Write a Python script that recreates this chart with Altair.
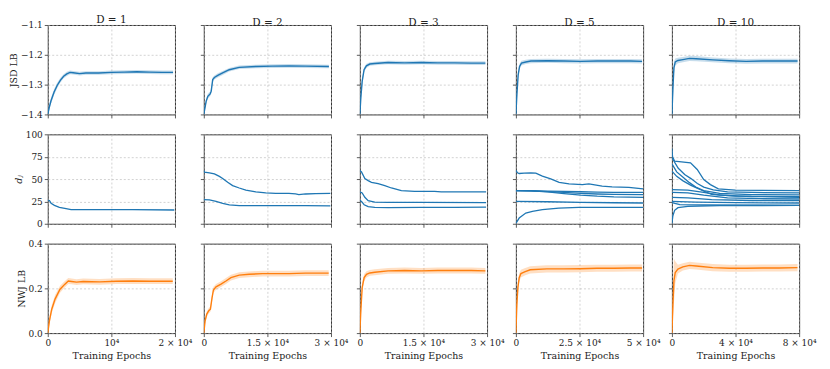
import altair as alt
import pandas as pd

FONT = "DejaVu Serif"
BLUE = "#1f77b4"
ORANGE = "#ff7f0e"

PANEL_TITLES = ["D = 1", "D = 2", "D = 3", "D = 5", "D = 10"]
X_MAX = [20000, 30000, 30000, 50000, 80000]
X_TICKS = [[0, 10000, 20000], [0, 15000, 30000], [0, 15000, 30000],
           [0, 25000, 50000], [0, 40000, 80000]]
X_TICK_LABELS = [["0", "10⁴", "2 × 10⁴"], ["0", "1.5 × 10⁴", "3 × 10⁴"],
                 ["0", "1.5 × 10⁴", "3 × 10⁴"], ["0", "2.5 × 10⁴", "5 × 10⁴"],
                 ["0", "4 × 10⁴", "8 × 10⁴"]]
X_TITLE = "Training Epochs"

ROW_TITLES = ["JSD LB", "dⱼ", "NWJ LB"]
ROW_TITLE_STYLES = ["normal", "italic", "normal"]
Y_DOMAINS = [[-1.4, -1.1], [0, 100], [0, 0.4]]
Y_TICKS = [[-1.4, -1.3, -1.2, -1.1], [0, 25, 50, 75, 100], [0.0, 0.2, 0.4]]
Y_FORMATS = [".1f", "d", ".1f"]

# ---------------- JSD lower bound (mean, spread) ----------------
JSD_D1_EPOCH = [0, 250, 500, 1000, 1500, 2000, 2500, 3000, 3500, 4000, 5000, 6000,
                8000, 10000, 12000, 14000, 16000, 18000, 19700]
JSD_D1_MEAN = [-1.40, -1.375, -1.355, -1.325, -1.302, -1.285, -1.272, -1.264, -1.259,
               -1.260, -1.263, -1.261, -1.261, -1.259, -1.258, -1.257, -1.258, -1.259, -1.259]
JSD_D1_SPREAD = [0.004, 0.008, 0.010, 0.010, 0.009, 0.008, 0.007, 0.007, 0.006, 0.006,
                 0.006, 0.006, 0.006, 0.006, 0.006, 0.006, 0.006, 0.006, 0.006]

JSD_D2_EPOCH = [0, 550, 950, 1500, 1750, 2100, 2500, 3300, 4450, 6000, 8350, 12250,
                16150, 20100, 24000, 29500]
JSD_D2_MEAN = [-1.40, -1.356, -1.339, -1.331, -1.322, -1.283, -1.276, -1.269, -1.261,
               -1.250, -1.242, -1.239, -1.238, -1.237, -1.238, -1.239]
JSD_D2_SPREAD = [0.004, 0.008, 0.008, 0.008, 0.008, 0.008, 0.007, 0.007, 0.007, 0.006,
                 0.006, 0.006, 0.006, 0.006, 0.006, 0.006]

JSD_D3_EPOCH = [0, 235, 550, 1000, 1550, 2350, 3500, 6650, 10550, 14500, 18400, 22300,
                26250, 29600]
JSD_D3_MEAN = [-1.40, -1.344, -1.289, -1.250, -1.237, -1.231, -1.229, -1.226, -1.227,
               -1.226, -1.227, -1.227, -1.228, -1.228]
JSD_D3_SPREAD = [0.004, 0.015, 0.012, 0.008, 0.007, 0.006, 0.006, 0.006, 0.006, 0.006,
                 0.006, 0.006, 0.006, 0.006]

JSD_D5_EPOCH = [0, 400, 900, 1450, 2200, 3900, 5900, 12400, 18900, 25450, 32000,
                38500, 45050, 49600]
JSD_D5_MEAN = [-1.40, -1.333, -1.267, -1.239, -1.228, -1.224, -1.221, -1.220, -1.221,
               -1.222, -1.221, -1.221, -1.221, -1.222]
JSD_D5_SPREAD = [0.004, 0.02, 0.012, 0.009, 0.008, 0.007, 0.007, 0.007, 0.007, 0.007,
                 0.007, 0.007, 0.007, 0.007]

JSD_D10_EPOCH = [0, 630, 1250, 2100, 3750, 6900, 11050, 15250, 25700, 36150, 46600,
                 57000, 67450, 79000]
JSD_D10_MEAN = [-1.40, -1.311, -1.244, -1.224, -1.219, -1.216, -1.212, -1.213, -1.217,
                -1.220, -1.222, -1.221, -1.221, -1.221]
JSD_D10_SPREAD = [0.004, 0.04, 0.02, 0.012, 0.009, 0.009, 0.009, 0.009, 0.008, 0.008,
                  0.008, 0.008, 0.008, 0.008]

# ---------------- NWJ lower bound (mean, spread) ----------------
NWJ_D1_EPOCH = [0, 260, 625, 1150, 1930, 2700, 3230, 3750, 4530, 5570, 8180, 10780,
                13390, 15990, 19650]
NWJ_D1_MEAN = [0.0, 0.055, 0.107, 0.152, 0.196, 0.219, 0.233, 0.231, 0.228, 0.231,
               0.229, 0.232, 0.233, 0.232, 0.232]
NWJ_D1_SPREAD = [0.005, 0.015, 0.018, 0.018, 0.016, 0.014, 0.013, 0.013, 0.013, 0.013,
                 0.013, 0.013, 0.013, 0.013, 0.013]

NWJ_D2_EPOCH = [0, 310, 700, 1170, 1560, 1950, 2270, 2890, 4060, 5230, 6400, 8360,
                10700, 13830, 16950, 20080, 23980, 29450]
NWJ_D2_MEAN = [0.0, 0.055, 0.085, 0.100, 0.107, 0.159, 0.193, 0.207, 0.219, 0.233,
               0.248, 0.259, 0.263, 0.266, 0.266, 0.266, 0.268, 0.268]
NWJ_D2_SPREAD = [0.005, 0.012, 0.012, 0.012, 0.012, 0.014, 0.014, 0.013, 0.013, 0.013,
                 0.013, 0.013, 0.013, 0.013, 0.013, 0.013, 0.013, 0.013]

NWJ_D3_EPOCH = [0, 235, 550, 1020, 1570, 2350, 3525, 6660, 10570, 14490, 18400, 22320,
                26240, 29610]
NWJ_D3_MEAN = [0.0, 0.100, 0.204, 0.248, 0.263, 0.269, 0.272, 0.278, 0.280, 0.278,
               0.280, 0.280, 0.280, 0.278]
NWJ_D3_SPREAD = [0.005, 0.03, 0.025, 0.016, 0.014, 0.013, 0.013, 0.013, 0.013, 0.013,
                 0.013, 0.013, 0.013, 0.013]

NWJ_D5_EPOCH = [0, 390, 790, 1310, 1970, 3680, 5640, 12200, 18770, 25330, 31890,
                38450, 45010, 49610]
NWJ_D5_MEAN = [0.0, 0.129, 0.204, 0.248, 0.266, 0.275, 0.283, 0.287, 0.287, 0.288,
               0.290, 0.290, 0.291, 0.291]
NWJ_D5_SPREAD = [0.005, 0.04, 0.03, 0.02, 0.017, 0.016, 0.016, 0.016, 0.016, 0.016,
                 0.016, 0.016, 0.016, 0.016]

NWJ_D10_EPOCH = [0, 630, 1250, 2090, 3760, 6890, 11070, 15250, 25690, 36140, 46580,
                 57020, 67470, 78960]
NWJ_D10_MEAN = [0.0, 0.129, 0.233, 0.271, 0.286, 0.296, 0.303, 0.300, 0.293, 0.290,
                0.290, 0.291, 0.291, 0.293]
NWJ_D10_SPREAD = [0.005, 0.06, 0.10, 0.05, 0.02, 0.016, 0.016, 0.016, 0.016, 0.016,
                  0.016, 0.016, 0.016, 0.016]

# ---------------- d_j traces: (epochs, values) per line ----------------
DJ_D1 = [
    ([0, 260, 520, 1050, 1830, 2880, 3670, 5500, 8100, 13350, 19900],
     [26.2, 26.0, 23.0, 20.6, 18.4, 16.9, 15.7, 15.7, 15.9, 15.7, 15.4]),
]
DJ_D2 = [
    ([0, 160, 1330, 2500, 3670, 4450, 5630, 6800, 8360, 9920, 12270, 14610, 16950,
      20080, 21640, 22420, 23980, 26330, 29840],
     [59.6, 57.7, 57.0, 55.8, 53.0, 50.6, 46.4, 42.7, 40.0, 37.5, 35.6, 34.5, 34.0,
      34.0, 33.3, 32.6, 33.3, 33.7, 34.0]),
    ([0, 1330, 2890, 4450, 6020, 8360, 12270, 16170, 20080, 23980, 29840],
     [27.0, 26.6, 25.1, 22.8, 21.0, 20.2, 20.2, 20.2, 20.2, 20.2, 19.9]),
]
DJ_D3 = [
    ([0, 390, 1180, 1960, 2740, 4310, 5880, 7440, 9790, 12920, 17620, 19190, 22320, 29770],
     [59.6, 58.0, 50.6, 48.3, 46.4, 45.0, 42.7, 40.0, 37.0, 36.3, 36.3, 35.6, 35.6, 35.6]),
    ([0, 550, 1180, 1960, 3520, 6660, 14490, 29770],
     [35.6, 34.5, 29.6, 25.8, 24.3, 24.0, 24.0, 23.6]),
    ([0, 390, 1020, 1960, 3520, 6660, 14490, 22320, 29770],
     [26.2, 25.0, 21.3, 19.1, 18.4, 18.0, 18.4, 18.4, 18.7]),
]
DJ_D5 = [
    ([0, 650, 1300, 3260, 5880, 7830, 10400, 13700, 17000, 20900, 26100, 28700, 33900,
      37800, 44400, 50000],
     [59.6, 57.0, 56.2, 56.6, 57.0, 56.6, 53.2, 50.2, 46.4, 44.6, 43.8, 44.6, 42.0,
      41.2, 40.8, 39.0]),
    ([0, 5880, 12400, 18930, 25460, 31980, 38510, 50000],
     [37.1, 36.9, 36.6, 36.2, 35.8, 35.4, 35.2, 35.0]),
    ([0, 5880, 12400, 18930, 25460, 31980, 38510, 50000],
     [37.1, 36.8, 36.0, 35.0, 34.0, 33.3, 32.8, 32.5]),
    ([0, 5880, 12400, 18930, 25460, 31980, 38510, 50000],
     [37.1, 36.7, 35.6, 33.8, 32.0, 30.8, 30.1, 29.6]),
    ([0, 12400, 25460, 38510, 50000],
     [25.1, 24.6, 24.0, 23.5, 23.2]),
    ([0, 1300, 3900, 6500, 10400, 16900, 24700, 50000],
     [0.4, 6.4, 12.0, 13.9, 15.7, 17.6, 18.4, 18.4]),
]
DJ_D10 = [
    ([0, 400, 1700, 6000, 11700, 15900, 20000, 24200, 29200, 40000, 80000],
     [84.0, 75.0, 70.0, 69.3, 68.2, 60.7, 49.4, 43.8, 39.0, 37.5, 37.1]),
    ([0, 4000, 8000, 12000, 16000, 20000, 26000, 35000, 50000, 80000],
     [73.8, 62.0, 55.0, 50.5, 45.0, 41.0, 38.0, 35.6, 35.0, 34.5]),
    ([0, 3000, 7000, 11000, 15000, 20000, 30000, 50000, 80000],
     [67.0, 58.0, 52.0, 46.0, 41.0, 37.0, 34.0, 32.6, 32.2]),
    ([0, 3000, 7000, 12000, 18000, 25000, 40000, 80000],
     [58.8, 53.0, 48.0, 43.0, 38.0, 33.0, 31.0, 30.3]),
    ([0, 10000, 20000, 30000, 50000, 80000],
     [38.2, 37.5, 35.0, 32.0, 30.5, 29.6]),
    ([0, 10000, 20000, 35000, 55000, 80000],
     [35.2, 34.5, 32.0, 29.0, 28.0, 27.7]),
    ([0, 10000, 25000, 50000, 80000],
     [29.6, 29.0, 27.0, 26.0, 25.8]),
    ([0, 15000, 40000, 80000],
     [25.1, 24.3, 23.6, 23.2]),
    ([0, 5000, 20000, 80000],
     [23.6, 21.5, 21.0, 20.6]),
    ([0, 600, 1700, 3800, 10000, 30000, 80000],
     [0.5, 9.0, 15.0, 18.0, 19.5, 20.2, 20.6]),
]

JSD = [(JSD_D1_EPOCH, JSD_D1_MEAN, JSD_D1_SPREAD), (JSD_D2_EPOCH, JSD_D2_MEAN, JSD_D2_SPREAD),
       (JSD_D3_EPOCH, JSD_D3_MEAN, JSD_D3_SPREAD), (JSD_D5_EPOCH, JSD_D5_MEAN, JSD_D5_SPREAD),
       (JSD_D10_EPOCH, JSD_D10_MEAN, JSD_D10_SPREAD)]
NWJ = [(NWJ_D1_EPOCH, NWJ_D1_MEAN, NWJ_D1_SPREAD), (NWJ_D2_EPOCH, NWJ_D2_MEAN, NWJ_D2_SPREAD),
       (NWJ_D3_EPOCH, NWJ_D3_MEAN, NWJ_D3_SPREAD), (NWJ_D5_EPOCH, NWJ_D5_MEAN, NWJ_D5_SPREAD),
       (NWJ_D10_EPOCH, NWJ_D10_MEAN, NWJ_D10_SPREAD)]
DJ = [DJ_D1, DJ_D2, DJ_D3, DJ_D5, DJ_D10]

W, H = 128, 90


def x_enc(col, row):
    labels = X_TICK_LABELS[col]
    ticks = X_TICKS[col]
    expr = f"'{labels[-1]}'"
    for t, l in reversed(list(zip(ticks[:-1], labels[:-1]))):
        expr = f"datum.value == {t} ? '{l}' : ({expr})"
    last = row == 2
    axis = alt.Axis(values=ticks, labelExpr=expr, labels=last, labelFlush=False,
                    labelOverlap=False, grid=True, domain=False, labelPadding=2,
                    titlePadding=3, titleFont=FONT, labelFont=FONT,
                    titleFontWeight="normal")
    return alt.X("epoch:Q", scale=alt.Scale(domain=[0, X_MAX[col]], nice=False, zero=False),
                 axis=axis, title=X_TITLE if last else None)


def y_axis(col, row):
    first = col == 0
    return alt.Axis(values=Y_TICKS[row], format=Y_FORMATS[row], labels=first,
                    labelFlush=False, labelOverlap=False, grid=True, domain=False,
                    labelPadding=2, titlePadding=2, titleFontStyle=ROW_TITLE_STYLES[row])


def y_scale(row):
    return alt.Scale(domain=Y_DOMAINS[row], nice=False, zero=False)


def panel(col, row):
    ytitle = ROW_TITLES[row] if col == 0 else None
    if row in (0, 2):
        ep, mean, spread = (JSD if row == 0 else NWJ)[col]
        color = BLUE if row == 0 else ORANGE
        df = pd.DataFrame({"epoch": ep, "value": mean,
                           "lo": [m - s for m, s in zip(mean, spread)],
                           "hi": [m + s for m, s in zip(mean, spread)]})
        base = alt.Chart(df)
        band = base.mark_area(color=color, opacity=0.25, clip=True).encode(
            x=x_enc(col, row),
            y=alt.Y("lo:Q", scale=y_scale(row), axis=y_axis(col, row), title=ytitle),
            y2="hi:Q",
        )
        line = base.mark_line(color=color, strokeWidth=1.4, clip=True).encode(
            x=x_enc(col, row),
            y=alt.Y("value:Q", scale=y_scale(row), axis=y_axis(col, row), title=ytitle),
        )
        ch = alt.layer(band, line)
    else:
        rows = []
        for i, (ep, vals) in enumerate(DJ[col]):
            for e, v in zip(ep, vals):
                rows.append({"epoch": e, "value": v, "series": i})
        df = pd.DataFrame(rows)
        ch = alt.Chart(df).mark_line(color=BLUE, strokeWidth=1.3, clip=True).encode(
            x=x_enc(col, row),
            y=alt.Y("value:Q", scale=y_scale(row), axis=y_axis(col, row), title=ytitle),
            detail="series:N",
        )
    props = dict(width=W, height=H)
    if row == 0:
        props["title"] = alt.TitleParams(PANEL_TITLES[col], fontSize=10.5, font=FONT,
                                         fontWeight="normal", offset=-4, color="#222222")
    return ch.properties(**props)


charts = [panel(c, r) for r in range(3) for c in range(5)]

chart = alt.concat(*charts, columns=5, spacing={"row": 20, "column": 29},
                   bounds="flush").configure(
    padding={"left": 0, "top": 5, "right": 5, "bottom": 2},
    font=FONT,
).configure_view(
    stroke="#333333", strokeWidth=1,
).configure_axis(
    labelFont=FONT, titleFont=FONT, labelFontSize=9, titleFontSize=9.5,
    titleFontWeight="normal", labelColor="#222222", titleColor="#222222",
    tickColor="#333333", tickSize=3.5, tickWidth=0.8,
    gridColor="#b5b5b5", gridDash=[2, 2], gridWidth=0.6,
).configure_title(
    font=FONT, fontWeight="normal",
)

chart.save("out.html", embed_options={"renderer": "svg", "actions": False})
